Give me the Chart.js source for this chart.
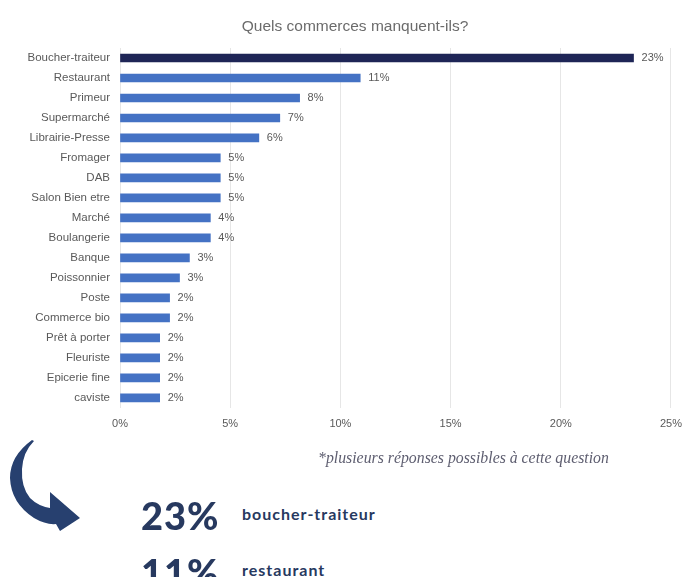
<!DOCTYPE html>
<html>
<head>
<meta charset="utf-8">
<script src="https://cdn.jsdelivr.net/npm/chart.js@4"></script>
<style>
  body { margin: 0; background: #fff; width: 683px; height: 577px; overflow: hidden; position: relative; }
  #wrap { position: absolute; left: 0; top: 0; width: 692px; height: 451px; }
  .t { position: absolute; white-space: nowrap; line-height: 1; }
  #title { left: 0; width: 710px; top: 17px; text-align: center; font: 15.5px "Liberation Sans", Arial, sans-serif; color: #6b6b6b; }
  #note { left: 318px; top: 449px; font: italic 15.8px "Liberation Serif", serif; color: #5e5e70; }
  .big { font: 900 38px Lato, sans-serif; letter-spacing: 1px; color: #27395f; left: 141px; }
  .lbl { font: bold 16px Lato, sans-serif; letter-spacing: 1px; color: #27395f; left: 242px; }
</style>
</head>
<body>
<div id="wrap"><canvas id="myChart"></canvas></div>
<div class="t" id="title">Quels commerces manquent-ils?</div>
<div class="t" id="note">*plusieurs réponses possibles à cette question</div>
<svg style="position:absolute;left:0;top:430px" width="100" height="110" viewBox="0 430 100 110">
  <path d="M32,440 Q10,456 10,478 Q11,503 34,518 Q46,525 56,524 L60,531 L80,518 L50,492 L50,508 Q38,506 30,498 Q21,487 22,469 Q23,452 34,441 Z" fill="#27406f"/>
</svg>
<div class="t big" style="top:492px">23%</div>
<div class="t lbl" style="top:504px">boucher-traiteur</div>
<div class="t big" style="top:549px">11%</div>
<div class="t lbl" style="top:560px">restaurant</div>
<script>
let categories = ['Boucher-traiteur', 'Restaurant', 'Primeur', 'Supermarché', 'Librairie-Presse', 'Fromager', 'DAB', 'Salon Bien etre', 'Marché', 'Boulangerie', 'Banque', 'Poissonnier', 'Poste', 'Commerce bio', 'Prêt à porter', 'Fleuriste', 'Epicerie fine', 'caviste'];
let values = [23.3, 10.9, 8.15, 7.25, 6.3, 4.55, 4.55, 4.55, 4.1, 4.1, 3.15, 2.7, 2.25, 2.25, 1.8, 1.8, 1.8, 1.8];
let valueLabels = ['23%', '11%', '8%', '7%', '6%', '5%', '5%', '5%', '4%', '4%', '3%', '3%', '2%', '2%', '2%', '2%', '2%', '2%'];
let xTicks = [0, 5, 10, 15, 20, 25];

let barColors = [];
for (i = 0; i < values.length; i++) {
    barColors.push(i == 0 ? '#1e2556' : '#4472c4');
}

// value labels at the end of each bar
const endLabels = {
    id: 'endLabels',
    afterDatasetsDraw(chart) {
        let ctx = chart.ctx;
        let meta = chart.getDatasetMeta(0);
        ctx.save();
        ctx.font = '11px "Liberation Sans", Arial, sans-serif';
        ctx.fillStyle = '#595959';
        ctx.textBaseline = 'middle';
        meta.data.forEach(function (bar, i) {
            ctx.fillText(valueLabels[i], bar.x + 8, bar.y);
        });
        ctx.restore();
    }
};

const ctx = document.getElementById('myChart').getContext('2d');
const myChart = new Chart(ctx, {
    type: 'bar',
    data: {
        labels: categories,
        datasets: [{
            data: values,
            backgroundColor: barColors,
            barThickness: 8
        }]
    },
    options: {
        indexAxis: 'y',
        responsive: true,
        maintainAspectRatio: false,
        animation: false,
        layout: { padding: { top: 48, right: 5, bottom: 10 } },
        plugins: {
            legend: { display: false },
            tooltip: { enabled: false }
        },
        scales: {
            x: {
                min: 0,
                max: 25,
                afterBuildTicks: function (scale) {
                    scale.ticks = xTicks.map(v => ({ value: v }));
                },
                ticks: {
                    padding: 10,
                    color: '#595959',
                    font: { size: 11, family: '"Liberation Sans", Arial, sans-serif' },
                    callback: v => v + '%'
                },
                grid: { color: '#e6e6e6', drawTicks: false },
                border: { display: false }
            },
            y: {
                afterFit: function (scale) { scale.width = 120; },
                ticks: {
                    padding: 10,
                    color: '#595959',
                    font: { size: 11.5, family: '"Liberation Sans", Arial, sans-serif' }
                },
                grid: { display: false, drawTicks: false },
                border: { display: false }
            }
        }
    },
    plugins: [endLabels]
});
</script>
</body>
</html>
